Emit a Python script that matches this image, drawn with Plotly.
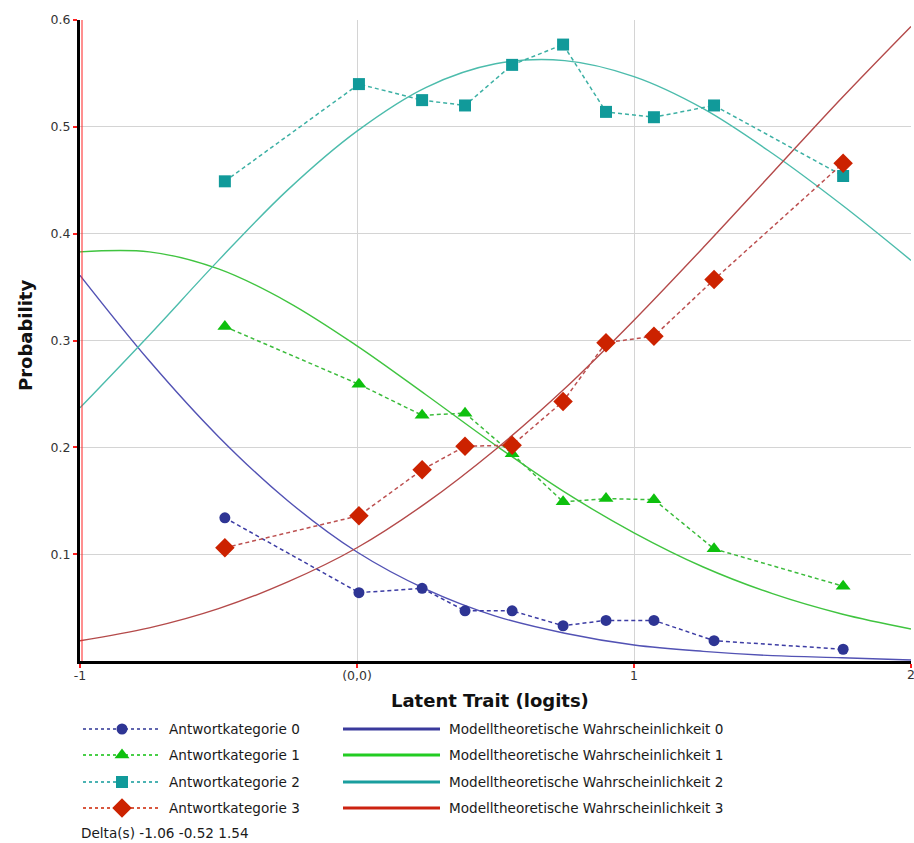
import plotly.graph_objects as go

# ---- data -------------------------------------------------------------
x_obs = [-0.477, 0.007, 0.235, 0.390, 0.560, 0.744, 0.899, 1.072, 1.289, 1.755]
obs_cat0 = [0.134, 0.064, 0.068, 0.047, 0.047, 0.033, 0.038, 0.038, 0.019, 0.011]
obs_cat1 = [0.313, 0.259, 0.230, 0.232, 0.194, 0.149, 0.152, 0.151, 0.105, 0.070]
obs_cat2 = [0.449, 0.540, 0.525, 0.520, 0.558, 0.577, 0.514, 0.509, 0.520, 0.454]
obs_cat3 = [0.106, 0.136, 0.179, 0.201, 0.202, 0.243, 0.298, 0.304, 0.357, 0.466]

x_model = [-1.0, -0.75, -0.5, -0.25, 0.0, 0.25, 0.5, 0.75, 1.0, 1.25, 1.5, 1.75, 2.0]
model_cat0 = [0.361, 0.281, 0.210, 0.150, 0.102, 0.067, 0.042, 0.026, 0.015, 0.009, 0.005, 0.003, 0.001]
model_cat1 = [0.383, 0.383, 0.367, 0.336, 0.295, 0.249, 0.202, 0.158, 0.120, 0.088, 0.063, 0.044, 0.030]
model_cat2 = [0.237, 0.305, 0.375, 0.441, 0.496, 0.537, 0.559, 0.562, 0.547, 0.517, 0.475, 0.427, 0.375]
model_cat3 = [0.019, 0.031, 0.049, 0.074, 0.106, 0.148, 0.198, 0.255, 0.319, 0.387, 0.457, 0.527, 0.594]

obs_names = ["Antwortkategorie 0", "Antwortkategorie 1", "Antwortkategorie 2", "Antwortkategorie 3"]
model_names = ["Modelltheoretische Wahrscheinlichkeit 0", "Modelltheoretische Wahrscheinlichkeit 1",
               "Modelltheoretische Wahrscheinlichkeit 2", "Modelltheoretische Wahrscheinlichkeit 3"]
deltas = [-1.06, -0.52, 1.54]

x_ticks = [-1, 0, 1, 2]
x_tick_text = ["-1", "(0,0)", "1", "2"]
y_ticks = [0.1, 0.2, 0.3, 0.4, 0.5, 0.6]
y_tick_text = ["0.1", "0.2", "0.3", "0.4", "0.5", "0.6"]

# ---- styling ----------------------------------------------------------
W, H = 914, 843
PL, PR, PT, PB = 80, 911, 20, 661          # plot area in pixels
FONT = "DejaVu Sans, Verdana, sans-serif"

marker_colors = ["#2e3594", "#0ec00e", "#119a9a", "#cc2200"]
dash_colors = ["#3c3ca4", "#3cbc3c", "#3cb0a4", "#bc5050"]
model_colors = ["#5252b4", "#40c440", "#4cbcac", "#b44a4a"]
legend_model_colors = ["#3a3a9c", "#22cc22", "#1a9e9e", "#cc2210"]
symbols = ["circle", "triangle-up", "square", "diamond"]
sizes = [11, 13, 12, 15]

obs_series = [obs_cat0, obs_cat1, obs_cat2, obs_cat3]
model_series = [model_cat0, model_cat1, model_cat2, model_cat3]

fig = go.Figure()

# model curves
for i, ys in enumerate(model_series):
    fig.add_trace(go.Scatter(
        x=x_model, y=ys, mode="lines", name=model_names[i], showlegend=False,
        line=dict(color=model_colors[i], width=1.4, shape="spline"),
    ))

# observed proportions
for i, ys in enumerate(obs_series):
    fig.add_trace(go.Scatter(
        x=x_obs, y=ys, mode="lines+markers", name=obs_names[i], showlegend=False,
        line=dict(color=dash_colors[i], width=1.5, dash="4px,3px"),
        marker=dict(symbol=symbols[i], size=sizes[i], color=marker_colors[i],
                    line=dict(width=0)),
        cliponaxis=False,
    ))

# ---- hand-built legend on a pixel-scaled helper subplot ---------------
rows = [729, 755, 782, 808]
for i in range(4):
    r = rows[i]
    fig.add_trace(go.Scatter(
        x=[83, 160], y=[r, r], mode="lines", xaxis="x2", yaxis="y2", showlegend=False,
        line=dict(color=marker_colors[i], width=1.6, dash="dot"), hoverinfo="skip",
    ))
    fig.add_trace(go.Scatter(
        x=[122], y=[r], mode="markers", xaxis="x2", yaxis="y2", showlegend=False,
        marker=dict(symbol=symbols[i], size=sizes[i], color=marker_colors[i], line=dict(width=0)),
        hoverinfo="skip",
    ))
    fig.add_trace(go.Scatter(
        x=[343, 440], y=[r, r], mode="lines", xaxis="x2", yaxis="y2", showlegend=False,
        line=dict(color=legend_model_colors[i], width=3), hoverinfo="skip",
    ))

legend_font = dict(family=FONT, size=13.6, color="#1a1a1a")
annotations = []
for i in range(4):
    r = rows[i]
    annotations.append(dict(x=167, y=r, xref="x2", yref="y2", text=obs_names[i],
                            showarrow=False, xanchor="left", yanchor="middle", font=legend_font))
    annotations.append(dict(x=447, y=r, xref="x2", yref="y2", text=model_names[i],
                            showarrow=False, xanchor="left", yanchor="middle", font=legend_font))
annotations.append(dict(x=79, y=833, xref="x2", yref="y2",
                        text="Delta(s) " + " ".join(f"{d:.2f}" for d in deltas),
                        showarrow=False, xanchor="left", yanchor="middle", font=legend_font))

# right-most x tick label sits on the page edge
annotations.append(dict(x=PR / W, y=(H - 674) / H, xref="paper", yref="paper",
                        text=x_tick_text[-1], showarrow=False,
                        xanchor="center", yanchor="middle",
                        font=dict(family=FONT, size=12.5, color="#333333")))

# axis titles
title_font = dict(family=FONT, size=18, color="#111111")
annotations.append(dict(x=490, y=700, xref="x2", yref="y2", text="<b>Latent Trait (logits)</b>",
                        showarrow=False, xanchor="center", yanchor="middle", font=title_font))
annotations.append(dict(x=25 / W, y=(H - 336) / H, xref="paper", yref="paper",
                        text="<b>Probability</b>", textangle=-90, showarrow=False,
                        xanchor="center", yanchor="middle", font=title_font))

# red accent lines alongside the black axis lines
shapes = [
    dict(type="line", xref="x", xsizemode="pixel", xanchor=-1, x0=2, x1=2,
         yref="y", y0=0, y1=0.6, line=dict(color="#ff2020", width=1), layer="above"),
    dict(type="line", yref="y", ysizemode="pixel", yanchor=0, y0=-2, y1=-2,
         xref="x", x0=-1, x1=2, line=dict(color="#ff2020", width=1), layer="above"),
]

fig.update_layout(
    width=W, height=H,
    margin=dict(l=0, r=0, t=0, b=0),
    paper_bgcolor="white", plot_bgcolor="rgba(0,0,0,0)",
    showlegend=False,
    font=dict(family=FONT, size=12, color="#333333"),
    annotations=annotations,
    shapes=shapes,
    xaxis=dict(
        domain=[PL / W, PR / W], range=[-1, 2], autorange=False,
        tickvals=x_ticks, ticktext=x_tick_text[:-1] + [""],
        tickfont=dict(family=FONT, size=12.5, color="#333333"),
        showgrid=True, gridcolor="#d4d4d4", gridwidth=1.2,
        zeroline=False, showline=True, linecolor="black", linewidth=3,
        ticks="outside", tickcolor="#ff2020", ticklen=4, tickwidth=2,
        ticklabelstandoff=-3,
        automargin=False, fixedrange=True,
    ),
    yaxis=dict(
        domain=[(H - PB) / H, (H - PT) / H], range=[0, 0.6], autorange=False,
        tickvals=y_ticks, ticktext=y_tick_text,
        tickfont=dict(family=FONT, size=12.5, color="#333333"),
        showgrid=True, gridcolor="#d4d4d4", gridwidth=1.2,
        zeroline=False, showline=True, linecolor="black", linewidth=3,
        ticks="outside", tickcolor="#ff2020", ticklen=4, tickwidth=2,
        automargin=False, fixedrange=True,
    ),
    xaxis2=dict(domain=[0, 1], range=[0, W], visible=False, fixedrange=True, anchor="y2"),
    yaxis2=dict(domain=[0, 143 / H], range=[H, H - 143], visible=False, fixedrange=True, anchor="x2"),
)

fig.write_html("out.html")
